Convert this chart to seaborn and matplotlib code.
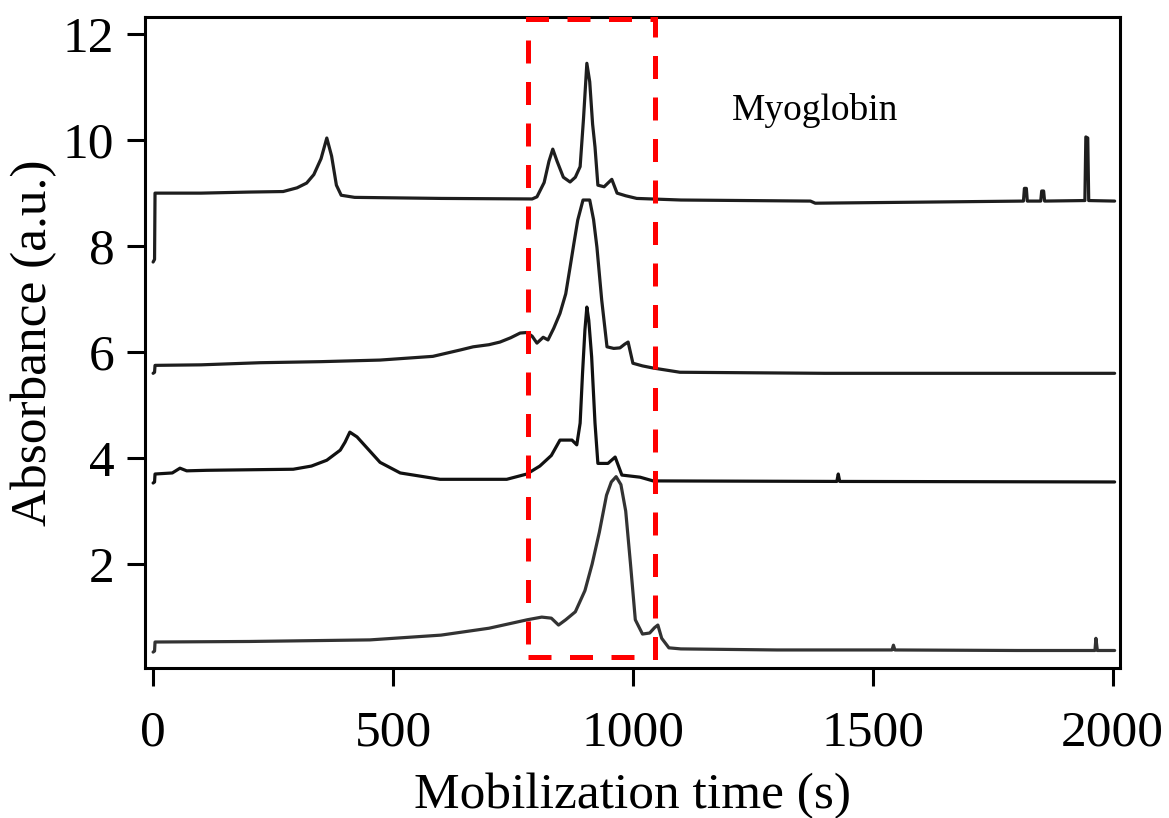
import matplotlib
matplotlib.use("Agg")
import matplotlib.pyplot as plt
import seaborn as sns
import pandas as pd
from matplotlib.patches import Rectangle

# ---- data ----
t1_x = [0, 3, 4, 100, 200, 271, 300, 320, 335, 350, 362, 372, 382, 392, 420, 600, 790, 800,
        815, 825, 833, 842, 855, 869, 880, 890, 897, 904, 910, 916, 921, 927, 940, 956, 967,
        985, 1008, 1100, 1370, 1380, 1600, 1814, 1816, 1820, 1822, 1850, 1852, 1856, 1858,
        1942, 1944, 1948, 1950, 2004]
t1_y = [7.7, 7.75, 9.0, 9.0, 9.02, 9.03, 9.1, 9.19, 9.35, 9.65, 10.04, 9.7, 9.15, 8.96, 8.92,
        8.9, 8.89, 8.93, 9.2, 9.6, 9.83, 9.6, 9.3, 9.21, 9.3, 9.5, 10.4, 11.45, 11.1, 10.3, 9.87,
        9.15, 9.12, 9.26, 9.0, 8.95, 8.9, 8.87, 8.85, 8.81, 8.83, 8.85, 9.09, 9.09, 8.85, 8.85,
        9.04, 9.04, 8.85, 8.86, 10.06, 10.04, 8.86, 8.85]

t2_x = [0, 3, 4, 100, 223, 350, 473, 583, 640, 667, 700, 723, 745, 765, 779, 790, 800, 813,
        823, 835, 848, 860, 869, 877, 885, 896, 910, 918, 925, 935, 946, 960, 973, 983, 990,
        1000, 1020, 1042, 1098, 1400, 2004]
t2_y = [5.6, 5.62, 5.75, 5.76, 5.8, 5.82, 5.85, 5.92, 6.04, 6.1, 6.14, 6.19, 6.27, 6.36, 6.37,
        6.3, 6.17, 6.28, 6.23, 6.45, 6.73, 7.1, 7.6, 8.05, 8.49, 8.87, 8.87, 8.5, 7.98, 6.98,
        6.1, 6.07, 6.08, 6.15, 6.19, 5.79, 5.74, 5.70, 5.62, 5.6, 5.6]

t3_x = [0, 3, 4, 40, 56, 70, 112, 200, 292, 330, 362, 390, 400, 410, 425, 446, 473, 515, 598,
        737, 779, 806, 830, 848, 873, 883, 890, 895, 900, 904, 908, 914, 921, 927, 948, 963,
        977, 1015, 1042, 1425, 1428, 1431, 2004]
t3_y = [3.53, 3.55, 3.7, 3.72, 3.81, 3.76, 3.77, 3.78, 3.79, 3.85, 3.96, 4.15, 4.3, 4.49, 4.4,
        4.19, 3.92, 3.72, 3.6, 3.6, 3.7, 3.85, 4.05, 4.34, 4.34, 4.25, 4.66, 5.6, 6.42, 6.85,
        6.6, 5.91, 4.66, 3.9, 3.9, 4.02, 3.68, 3.64, 3.57, 3.56, 3.7, 3.56, 3.55]

t4_x = [0, 3, 4, 200, 452, 600, 700, 780, 810, 830, 845, 860, 880, 900, 915, 930, 945, 955,
        965, 975, 985, 995, 1005, 1020, 1035, 1045, 1052, 1060, 1075, 1100, 1300, 1540, 1543,
        1546, 1800, 1963, 1965, 1968, 2004]
t4_y = [0.34, 0.36, 0.53, 0.54, 0.57, 0.66, 0.79, 0.95, 1.0, 0.98, 0.85, 0.95, 1.1, 1.5, 2.0,
        2.6, 3.3, 3.55, 3.65, 3.5, 3.0, 2.0, 0.95, 0.68, 0.7, 0.8, 0.85, 0.6, 0.42, 0.4, 0.38,
        0.38, 0.47, 0.38, 0.37, 0.37, 0.6, 0.37, 0.37]

x_ticks = [0, 500, 1000, 1500, 2000]
y_ticks = [2, 4, 6, 8, 10, 12]
box_x = [781, 1046]
box_y = [0.25, 12.28]
label_text = "Myoglobin"

# ---- style ----
sns.set_theme(style="ticks")
plt.rcParams["font.family"] = ["Liberation Serif", "DejaVu Serif"]
plt.rcParams["text.color"] = "black"
plt.rcParams["axes.labelcolor"] = "black"

fig = plt.figure(figsize=(11.69, 8.18), dpi=100)
ax = fig.add_axes([0.124, 0.1834, 0.834, 0.7956])

traces = [(t1_x, t1_y, "#1e1e1e"), (t2_x, t2_y, "#1e1e1e"),
          (t3_x, t3_y, "#111111"), (t4_x, t4_y, "#333333")]
for xs, ys, col in traces:
    df = pd.DataFrame({"t": xs, "a": ys})
    sns.lineplot(data=df, x="t", y="a", ax=ax, sort=False, estimator=None,
                 color=col, lw=2.3)

rect = Rectangle((box_x[0], box_y[0]), box_x[1] - box_x[0], box_y[1] - box_y[0],
                 fill=False, edgecolor="#ff0000", lw=3.6,
                 linestyle=(0, (4.6, 3.7)), zorder=5, clip_on=False)
ax.add_patch(rect)

ax.text(1206, 10.38, label_text, fontsize=27, va="baseline", ha="left", color="black")

ax.set_xlim(-17, 2015)
ax.set_ylim(0.04, 12.32)
ax.set_xticks(x_ticks)
ax.set_yticks(y_ticks)
ax.set_xlabel("Mobilization time (s)", fontsize=37, labelpad=12, color="black")
ax.set_ylabel("Absorbance (a.u.)", fontsize=37, labelpad=4, color="black")
ax.tick_params(axis="both", which="major", labelsize=37, direction="out",
               length=13, width=2.2, color="black", labelcolor="black")
ax.tick_params(axis="x", pad=17)
ax.tick_params(axis="y", pad=9)
for s in ax.spines.values():
    s.set_linewidth(2.2)
    s.set_color("black")
    s.set_visible(True)

fig.savefig("out.png", dpi=100)
